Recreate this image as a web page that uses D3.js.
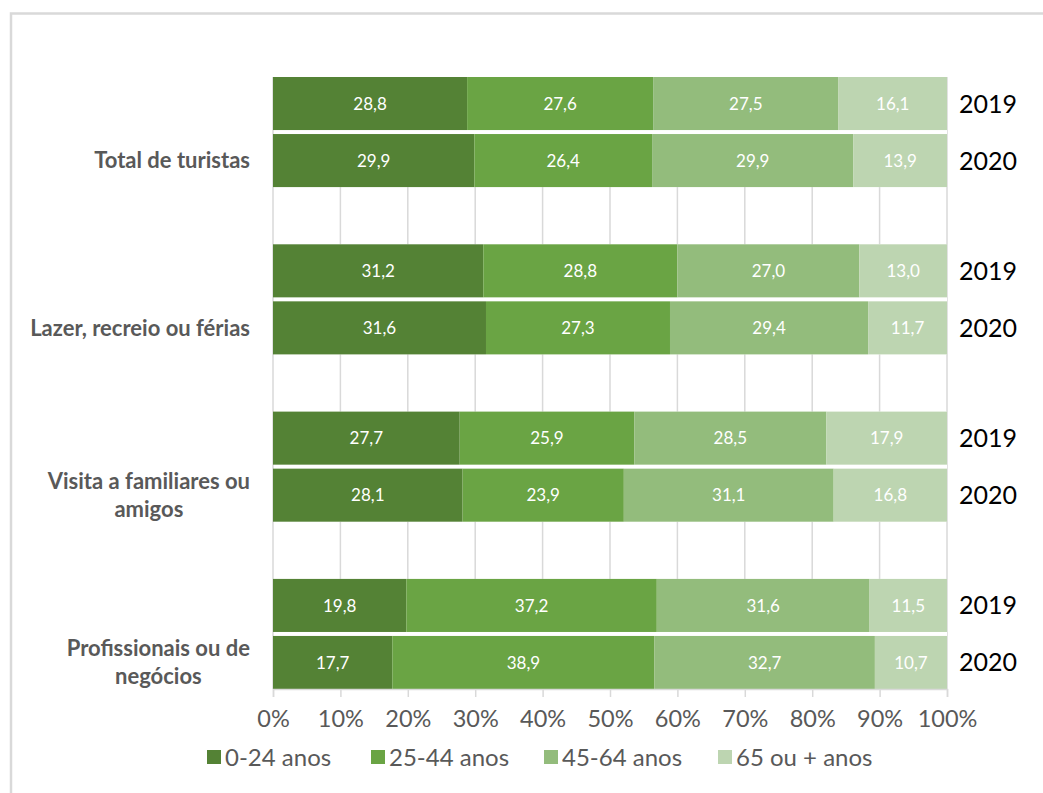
<!DOCTYPE html>
<html>
<head>
<meta charset="utf-8">
<script src="https://cdn.jsdelivr.net/npm/d3@7/dist/d3.min.js"></script>
<style>
  html, body { margin: 0; padding: 0; background: #fff; }
  svg { display: block; font-family: Lato, "Open Sans", sans-serif; }
</style>
</head>
<body>
<svg id="chart" width="1043" height="793"></svg>
<script>
// Tourists by age band and main purpose of trip, 2019 vs 2020 (% of each row)
const purposes = ["Total de turistas", "Lazer, recreio ou férias", "Visita a familiares ou amigos", "Profissionais ou de negócios"];
const years = ["2019", "2020"];
const ageBands = ["0-24 anos", "25-44 anos", "45-64 anos", "65 ou + anos"];
const ageColors = ["#548235", "#6aa444", "#93bc7c", "#bdd5b1"];
const xTicks = [0, 0.1, 0.2, 0.3, 0.4, 0.5, 0.6, 0.7, 0.8, 0.9, 1];

// One entry per row: purpose × year, in the order listed above
const age0to24  = [28.8, 29.9, 31.2, 31.6, 27.7, 28.1, 19.8, 17.7];
const age25to44 = [27.6, 26.4, 28.8, 27.3, 25.9, 23.9, 37.2, 38.9];
const age45to64 = [27.5, 29.9, 27.0, 29.4, 28.5, 31.1, 31.6, 32.7];
const age65plus = [16.1, 13.9, 13.0, 11.7, 17.9, 16.8, 11.5, 10.7];

const seriesValues = [age0to24, age25to44, age45to64, age65plus];

const rows = [];
purposes.forEach((p, i) => years.forEach((y, j) => {
  const k = i * years.length + j;
  const r = { purpose: p, year: y };
  ageBands.forEach((a, s) => { r[a] = seriesValues[s][k]; });
  rows.push(r);
}));

const ptLocale = d3.formatLocale({ decimal: ",", thousands: ".", grouping: [3], currency: ["", " €"] });
const fmtValue = ptLocale.format(".1f");

const svg = d3.select("#chart");

// chart frame
svg.append("rect")
  .attr("x", 11).attr("y", 13.5)
  .attr("width", 1100).attr("height", 900)
  .attr("fill", "#fff")
  .attr("stroke", "#d9d9d9").attr("stroke-width", 2.5);

const plotTop = 77, plotBottom = 689;
const x = d3.scaleLinear().domain([0, 1]).range([273, 947]);

const yGroup = d3.scaleBand()
  .domain(purposes)
  .range([plotTop, plotBottom])
  .paddingInner(0.342)
  .paddingOuter(0);

const yYear = d3.scaleBand()
  .domain(years)
  .range([0, yGroup.bandwidth()])
  .paddingInner(0.07)
  .paddingOuter(0);

// vertical gridlines
svg.append("g").selectAll("line")
  .data(xTicks)
  .join("line")
  .attr("x1", d => x(d)).attr("x2", d => x(d))
  .attr("y1", plotTop).attr("y2", plotBottom)
  .attr("stroke", "#d9d9d9").attr("stroke-width", 1.5);

// white backing per purpose so the gap between the two year bars stays clean
svg.append("g").selectAll("rect")
  .data(purposes)
  .join("rect")
  .attr("x", x(0) + 1).attr("width", x(1) - x(0) - 1)
  .attr("y", d => yGroup(d)).attr("height", yGroup.bandwidth())
  .attr("fill", "#fff");

// 100% stacked bars
const stack = d3.stack().keys(ageBands).offset(d3.stackOffsetExpand);
const layers = stack(rows);
const rowY = r => yGroup(r.purpose) + yYear(r.year);

const layerG = svg.append("g").selectAll("g")
  .data(layers)
  .join("g")
  .attr("fill", (d, i) => ageColors[i]);

layerG.selectAll("rect")
  .data(d => d)
  .join("rect")
  .attr("x", d => x(d[0]))
  .attr("width", d => x(d[1]) - x(d[0]))
  .attr("y", d => rowY(d.data))
  .attr("height", yYear.bandwidth());

// value labels
const labelG = svg.append("g")
  .attr("fill", "#fff")
  .attr("font-size", 17)
  .attr("text-anchor", "middle");
layers.forEach(layer => {
  labelG.selectAll(null)
    .data(layer)
    .join("text")
    .attr("x", d => (x(d[0]) + x(d[1])) / 2)
    .attr("y", d => rowY(d.data) + yYear.bandwidth() / 2)
    .attr("dy", "0.36em")
    .text(d => fmtValue(d.data[layer.key]));
});

// year labels to the right of each bar
svg.append("g").selectAll("text")
  .data(rows)
  .join("text")
  .attr("x", 959)
  .attr("y", d => rowY(d) + yYear.bandwidth() / 2)
  .attr("dy", "0.36em")
  .attr("font-size", 25)
  .attr("fill", "#000")
  .text(d => d.year);

// x axis
const xAxis = d3.axisBottom(x)
  .tickValues(xTicks)
  .tickFormat(d3.format(".0%"))
  .tickSize(8)
  .tickPadding(13);

const axisG = svg.append("g")
  .attr("transform", `translate(0,${plotBottom})`)
  .call(xAxis);
axisG.select(".domain").attr("stroke", "#d9d9d9").attr("stroke-width", 1.5);
axisG.selectAll(".tick line").attr("stroke", "#d9d9d9").attr("stroke-width", 1.5);
axisG.selectAll(".tick text")
  .attr("fill", "#595959")
  .attr("font-size", 23.5)
  .attr("font-family", "Lato, sans-serif");

// purpose labels, wrapped and centred on the 2020 bar
const wrapWidth = 240, lineHeight = 28, labelRight = 250;
const catG = svg.append("g")
  .attr("font-size", 22)
  .attr("font-weight", "bold")
  .attr("fill", "#595959");

purposes.forEach(p => {
  const words = p.split(" ");
  const t = catG.append("text").attr("text-anchor", "middle");
  const lines = [];
  let line = [];
  const probe = catG.append("text");
  words.forEach(w => {
    const trial = line.concat(w).join(" ");
    probe.text(trial);
    if (probe.node().getComputedTextLength() > wrapWidth && line.length) {
      lines.push(line.join(" "));
      line = [w];
    } else {
      line.push(w);
    }
  });
  lines.push(line.join(" "));
  let maxW = 0;
  lines.forEach(l => { probe.text(l); maxW = Math.max(maxW, probe.node().getComputedTextLength()); });
  probe.remove();
  const cx = labelRight - maxW / 2;
  const cy = yGroup(p) + yYear("2020") + yYear.bandwidth() / 2;
  const y0 = cy - (lines.length - 1) * lineHeight / 2;
  lines.forEach((l, i) => {
    t.append("tspan")
      .attr("x", cx)
      .attr("y", y0 + i * lineHeight)
      .attr("dy", "0.36em")
      .text(l);
  });
});

// legend
const legendX = [207, 371, 544, 718];
const legend = svg.append("g").selectAll("g")
  .data(ageBands)
  .join("g")
  .attr("transform", (d, i) => `translate(${legendX[i]},757)`);
legend.append("rect")
  .attr("x", 0).attr("y", -7)
  .attr("width", 14).attr("height", 14)
  .attr("fill", (d, i) => ageColors[i]);
legend.append("text")
  .attr("x", 18)
  .attr("dy", "0.36em")
  .attr("font-size", 24)
  .attr("fill", "#595959")
  .text(d => d);
</script>
</body>
</html>
